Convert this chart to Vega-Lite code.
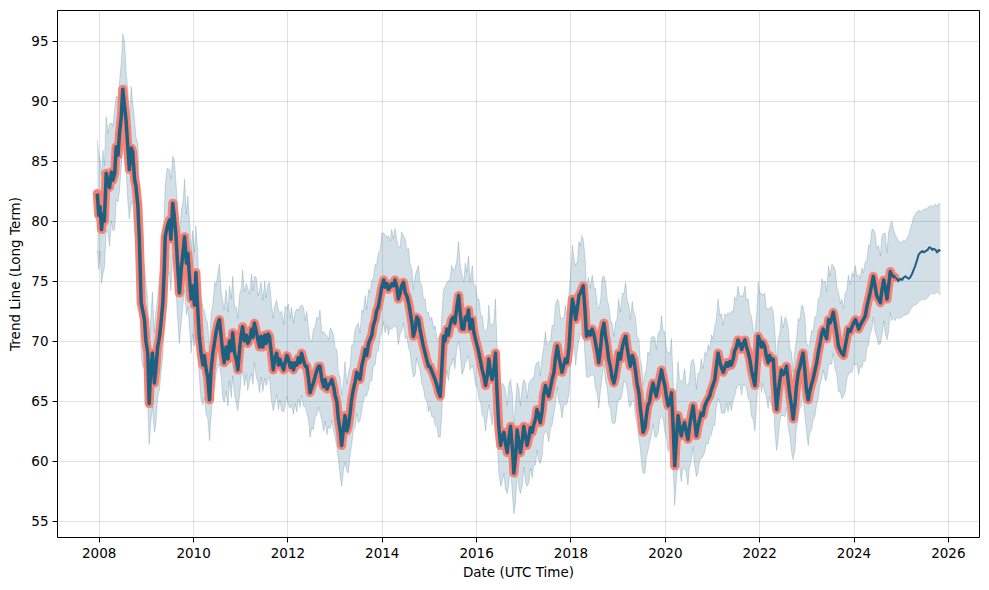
{
"$schema": "https://vega.github.io/schema/vega-lite/v6.json",
"width": 922, "height": 527,
"autosize": {"type": "none"},
"padding": {"left": 57, "top": 10, "right": 10, "bottom": 53},
"background": "white",
"config": {
  "view": {"stroke": "black", "strokeWidth": 1},
  "font": "DejaVu Sans",
  "axis": {"domain": false, "tickColor": "black", "tickSize": 5, "tickWidth": 1, "labelFontSize": 13.5, "labelColor": "black", "labelPadding": 4, "titleFontSize": 13.5, "titleFontWeight": "normal", "titleColor": "black", "grid": true, "gridColor": "#b0b0b0", "gridOpacity": 0.38, "labelFont": "DejaVu Sans", "titleFont": "DejaVu Sans"}
},
"data": {"values": [
{"t":2007.97,"y":82.3,"lo":77.6,"hi":86.8},{"t":2008.00,"y":80.5,"lo":76.0,"hi":85.6},{"t":2008.03,"y":81.2,"lo":77.5,"hi":85.2},{"t":2008.06,"y":79.3,"lo":74.8,"hi":83.8},{"t":2008.09,"y":80.6,"lo":75.6,"hi":85.9},{"t":2008.12,"y":80.0,"lo":76.1,"hi":84.6},{"t":2008.16,"y":84.0,"lo":79.2,"hi":88.7},{"t":2008.20,"y":83.2,"lo":79.0,"hi":87.3},{"t":2008.23,"y":82.8,"lo":77.9,"hi":88.1},{"t":2008.27,"y":84.1,"lo":80.0,"hi":88.2},{"t":2008.30,"y":83.4,"lo":79.2,"hi":87.9},{"t":2008.34,"y":84.0,"lo":79.3,"hi":89.4},{"t":2008.37,"y":86.2,"lo":81.8,"hi":90.4},{"t":2008.41,"y":85.5,"lo":81.6,"hi":90.3},{"t":2008.44,"y":87.3,"lo":82.5,"hi":91.6},{"t":2008.48,"y":88.8,"lo":84.7,"hi":93.2},{"t":2008.51,"y":91.0,"lo":86.6,"hi":95.6},{"t":2008.55,"y":89.5,"lo":85.0,"hi":94.9},{"t":2008.58,"y":88.4,"lo":84.3,"hi":92.5},{"t":2008.62,"y":86.0,"lo":81.5,"hi":90.8},{"t":2008.65,"y":84.3,"lo":80.2,"hi":88.6},{"t":2008.69,"y":86.1,"lo":81.4,"hi":91.2},{"t":2008.72,"y":85.8,"lo":81.7,"hi":89.9},{"t":2008.76,"y":83.5,"lo":78.9,"hi":88.4},{"t":2008.79,"y":82.9,"lo":78.7,"hi":87.0},{"t":2008.83,"y":81.3,"lo":76.6,"hi":86.5},{"t":2008.86,"y":78.7,"lo":74.5,"hi":83.1},{"t":2008.90,"y":73.2,"lo":69.0,"hi":78.4},{"t":2008.93,"y":72.6,"lo":67.9,"hi":76.8},{"t":2008.97,"y":71.8,"lo":67.7,"hi":76.4},{"t":2009.00,"y":70.0,"lo":65.4,"hi":74.9},{"t":2009.04,"y":69.0,"lo":64.8,"hi":73.3},{"t":2009.07,"y":64.8,"lo":61.4,"hi":69.6},{"t":2009.10,"y":67.5,"lo":63.1,"hi":71.8},{"t":2009.14,"y":69.0,"lo":64.6,"hi":74.1},{"t":2009.18,"y":66.5,"lo":62.4,"hi":70.7},{"t":2009.21,"y":67.6,"lo":63.0,"hi":72.4},{"t":2009.25,"y":69.5,"lo":65.3,"hi":73.6},{"t":2009.29,"y":70.4,"lo":66.0,"hi":75.5},{"t":2009.32,"y":71.5,"lo":67.4,"hi":75.9},{"t":2009.36,"y":73.2,"lo":68.7,"hi":77.9},{"t":2009.39,"y":76.0,"lo":71.8,"hi":80.6},{"t":2009.41,"y":78.7,"lo":74.2,"hi":83.0},{"t":2009.45,"y":79.5,"lo":75.4,"hi":84.4},{"t":2009.50,"y":80.1,"lo":75.7,"hi":84.3},{"t":2009.53,"y":78.5,"lo":74.2,"hi":83.5},{"t":2009.57,"y":81.5,"lo":77.3,"hi":85.4},{"t":2009.60,"y":80.5,"lo":76.0,"hi":85.2},{"t":2009.64,"y":78.7,"lo":74.4,"hi":83.0},{"t":2009.67,"y":76.5,"lo":72.1,"hi":81.5},{"t":2009.71,"y":74.0,"lo":69.8,"hi":78.2},{"t":2009.75,"y":76.0,"lo":71.6,"hi":80.9},{"t":2009.79,"y":77.5,"lo":73.2,"hi":81.6},{"t":2009.82,"y":78.7,"lo":74.3,"hi":83.5},{"t":2009.86,"y":76.5,"lo":72.2,"hi":80.6},{"t":2009.89,"y":77.3,"lo":72.9,"hi":82.1},{"t":2009.93,"y":75.0,"lo":70.8,"hi":79.7},{"t":2009.96,"y":73.5,"lo":69.0,"hi":77.6},{"t":2009.99,"y":74.6,"lo":70.6,"hi":79.2},
{"t":2010.03,"y":73.0,"lo":69.6,"hi":77.4},{"t":2010.06,"y":75.7,"lo":71.9,"hi":79.6},{"t":2010.10,"y":72.6,"lo":68.8,"hi":77.3},{"t":2010.13,"y":70.5,"lo":67.2,"hi":74.4},{"t":2010.17,"y":69.0,"lo":65.1,"hi":73.6},{"t":2010.21,"y":68.0,"lo":64.7,"hi":72.8},{"t":2010.24,"y":68.8,"lo":65.3,"hi":72.5},{"t":2010.28,"y":67.6,"lo":63.8,"hi":71.8},{"t":2010.31,"y":67.0,"lo":63.6,"hi":71.5},{"t":2010.35,"y":65.1,"lo":61.7,"hi":69.0},{"t":2010.38,"y":67.5,"lo":63.6,"hi":72.2},{"t":2010.42,"y":69.0,"lo":65.7,"hi":73.1},{"t":2010.46,"y":70.0,"lo":66.2,"hi":74.9},{"t":2010.49,"y":70.8,"lo":67.4,"hi":74.6},{"t":2010.53,"y":71.5,"lo":67.9,"hi":75.8},{"t":2010.56,"y":71.8,"lo":68.1,"hi":76.4},{"t":2010.60,"y":70.2,"lo":66.9,"hi":73.9},{"t":2010.63,"y":69.0,"lo":65.2,"hi":73.3},{"t":2010.66,"y":68.2,"lo":64.9,"hi":72.6},{"t":2010.70,"y":69.5,"lo":65.8,"hi":74.3},{"t":2010.74,"y":68.5,"lo":64.6,"hi":72.4},{"t":2010.77,"y":70.0,"lo":66.7,"hi":74.6},{"t":2010.81,"y":69.2,"lo":65.3,"hi":73.5},{"t":2010.84,"y":70.7,"lo":67.1,"hi":75.4},{"t":2010.88,"y":69.0,"lo":65.6,"hi":72.9},{"t":2010.92,"y":68.4,"lo":64.7,"hi":72.8},{"t":2010.95,"y":67.6,"lo":64.2,"hi":71.9},{"t":2010.99,"y":69.5,"lo":65.6,"hi":74.0},
{"t":2011.02,"y":70.5,"lo":67.1,"hi":74.3},{"t":2011.05,"y":71.2,"lo":67.5,"hi":75.9},{"t":2011.09,"y":70.0,"lo":66.3,"hi":74.1},{"t":2011.13,"y":70.5,"lo":67.2,"hi":74.8},{"t":2011.16,"y":69.8,"lo":65.9,"hi":74.4},{"t":2011.20,"y":70.1,"lo":66.7,"hi":73.9},{"t":2011.24,"y":71.0,"lo":67.3,"hi":75.6},{"t":2011.27,"y":70.3,"lo":66.4,"hi":74.2},{"t":2011.30,"y":71.5,"lo":68.2,"hi":75.4},{"t":2011.34,"y":70.8,"lo":67.0,"hi":75.3},{"t":2011.38,"y":70.0,"lo":66.5,"hi":73.8},{"t":2011.41,"y":69.5,"lo":65.7,"hi":74.2},{"t":2011.44,"y":70.4,"lo":67.0,"hi":74.9},{"t":2011.48,"y":69.5,"lo":65.8,"hi":73.4},{"t":2011.52,"y":70.5,"lo":66.9,"hi":75.0},{"t":2011.55,"y":69.8,"lo":66.3,"hi":73.6},{"t":2011.59,"y":70.6,"lo":66.8,"hi":74.8},{"t":2011.62,"y":70.4,"lo":67.0,"hi":74.9},{"t":2011.66,"y":69.0,"lo":65.1,"hi":73.2},{"t":2011.70,"y":67.6,"lo":64.2,"hi":71.9},{"t":2011.73,"y":68.5,"lo":64.7,"hi":72.9},{"t":2011.77,"y":69.0,"lo":65.6,"hi":73.4},{"t":2011.81,"y":68.0,"lo":64.3,"hi":72.6},{"t":2011.84,"y":68.5,"lo":65.1,"hi":72.3},{"t":2011.88,"y":68.0,"lo":64.2,"hi":72.5},{"t":2011.92,"y":67.6,"lo":64.1,"hi":71.4},{"t":2011.95,"y":68.2,"lo":64.5,"hi":72.9},{"t":2011.99,"y":68.8,"lo":65.4,"hi":72.7},
{"t":2012.02,"y":68.5,"lo":64.6,"hi":73.1},{"t":2012.06,"y":67.8,"lo":64.4,"hi":71.9},{"t":2012.09,"y":68.2,"lo":64.7,"hi":72.8},{"t":2012.13,"y":67.6,"lo":63.9,"hi":71.5},{"t":2012.16,"y":68.2,"lo":64.8,"hi":72.4},{"t":2012.20,"y":68.0,"lo":64.1,"hi":72.7},{"t":2012.23,"y":68.6,"lo":65.2,"hi":72.5},{"t":2012.27,"y":68.2,"lo":64.5,"hi":72.9},{"t":2012.30,"y":69.0,"lo":65.5,"hi":73.0},{"t":2012.34,"y":68.4,"lo":64.6,"hi":72.8},{"t":2012.38,"y":67.9,"lo":64.5,"hi":71.7},{"t":2012.41,"y":67.9,"lo":64.1,"hi":72.5},{"t":2012.45,"y":66.8,"lo":63.4,"hi":70.9},{"t":2012.48,"y":65.7,"lo":62.0,"hi":70.1},{"t":2012.52,"y":66.2,"lo":62.8,"hi":70.0},{"t":2012.55,"y":66.5,"lo":62.6,"hi":71.0},{"t":2012.59,"y":67.1,"lo":63.7,"hi":71.2},{"t":2012.62,"y":67.5,"lo":63.8,"hi":72.0},{"t":2012.66,"y":67.9,"lo":64.5,"hi":71.8},{"t":2012.69,"y":67.9,"lo":64.0,"hi":72.6},{"t":2012.73,"y":66.8,"lo":63.4,"hi":70.7},{"t":2012.77,"y":66.2,"lo":62.5,"hi":70.8},{"t":2012.80,"y":66.8,"lo":63.3,"hi":70.6},{"t":2012.84,"y":66.0,"lo":62.2,"hi":70.4},{"t":2012.87,"y":66.3,"lo":62.9,"hi":70.1},{"t":2012.91,"y":66.5,"lo":62.7,"hi":71.1},{"t":2012.94,"y":66.8,"lo":63.4,"hi":70.9},{"t":2012.98,"y":66.2,"lo":62.5,"hi":70.5},
{"t":2013.01,"y":65.5,"lo":62.0,"hi":69.4},{"t":2013.05,"y":64.9,"lo":61.1,"hi":69.3},{"t":2013.08,"y":63.5,"lo":60.2,"hi":67.4},{"t":2013.12,"y":62.5,"lo":58.7,"hi":66.9},{"t":2013.15,"y":61.3,"lo":57.9,"hi":65.5},{"t":2013.19,"y":62.8,"lo":59.3,"hi":66.6},{"t":2013.22,"y":63.8,"lo":59.9,"hi":68.3},{"t":2013.26,"y":62.5,"lo":59.2,"hi":66.4},{"t":2013.29,"y":62.9,"lo":59.0,"hi":67.3},{"t":2013.33,"y":64.0,"lo":60.6,"hi":67.9},{"t":2013.36,"y":65.1,"lo":61.3,"hi":69.6},{"t":2013.40,"y":66.0,"lo":62.6,"hi":69.8},{"t":2013.43,"y":66.5,"lo":62.7,"hi":70.9},{"t":2013.47,"y":67.4,"lo":64.0,"hi":71.3},{"t":2013.50,"y":67.0,"lo":63.2,"hi":71.5},{"t":2013.54,"y":66.8,"lo":63.4,"hi":70.7},{"t":2013.58,"y":68.0,"lo":64.3,"hi":72.6},{"t":2013.61,"y":68.5,"lo":65.0,"hi":72.4},{"t":2013.65,"y":69.3,"lo":65.5,"hi":73.8},{"t":2013.68,"y":68.8,"lo":65.4,"hi":72.6},{"t":2013.72,"y":69.8,"lo":66.0,"hi":74.3},{"t":2013.75,"y":70.1,"lo":66.7,"hi":74.0},{"t":2013.79,"y":70.5,"lo":66.7,"hi":75.1},{"t":2013.82,"y":71.3,"lo":67.9,"hi":75.2},{"t":2013.86,"y":71.8,"lo":68.0,"hi":76.4},{"t":2013.89,"y":72.5,"lo":69.1,"hi":76.3},{"t":2013.93,"y":72.9,"lo":69.2,"hi":77.4},{"t":2013.97,"y":73.8,"lo":70.4,"hi":77.6},
{"t":2014.00,"y":74.5,"lo":70.7,"hi":79.0},{"t":2014.04,"y":75.1,"lo":71.6,"hi":79.0},{"t":2014.07,"y":74.5,"lo":70.7,"hi":78.9},{"t":2014.11,"y":74.8,"lo":71.3,"hi":78.6},{"t":2014.14,"y":74.3,"lo":70.5,"hi":78.8},{"t":2014.18,"y":74.5,"lo":71.1,"hi":78.3},{"t":2014.21,"y":74.8,"lo":71.0,"hi":79.3},{"t":2014.25,"y":74.6,"lo":71.2,"hi":78.5},{"t":2014.28,"y":75.1,"lo":71.3,"hi":79.4},{"t":2014.32,"y":74.5,"lo":71.0,"hi":78.4},{"t":2014.35,"y":73.5,"lo":69.7,"hi":77.9},{"t":2014.39,"y":74.0,"lo":70.6,"hi":77.8},{"t":2014.42,"y":74.6,"lo":70.8,"hi":79.1},{"t":2014.46,"y":74.9,"lo":71.5,"hi":78.8},{"t":2014.50,"y":74.0,"lo":70.2,"hi":78.5},{"t":2014.53,"y":73.8,"lo":70.4,"hi":77.6},{"t":2014.57,"y":73.2,"lo":69.4,"hi":77.7},{"t":2014.60,"y":72.5,"lo":69.1,"hi":76.4},{"t":2014.64,"y":71.5,"lo":67.7,"hi":76.0},{"t":2014.67,"y":70.4,"lo":67.0,"hi":74.3},{"t":2014.71,"y":71.0,"lo":67.2,"hi":75.5},{"t":2014.74,"y":72.0,"lo":68.6,"hi":75.9},{"t":2014.78,"y":71.8,"lo":68.0,"hi":76.3},{"t":2014.81,"y":71.0,"lo":67.6,"hi":74.9},{"t":2014.85,"y":70.2,"lo":66.4,"hi":74.7},{"t":2014.88,"y":69.6,"lo":66.2,"hi":73.5},{"t":2014.92,"y":69.0,"lo":65.2,"hi":73.5},{"t":2014.95,"y":68.5,"lo":65.1,"hi":72.4},{"t":2014.99,"y":67.9,"lo":64.1,"hi":72.4},
{"t":2015.02,"y":67.9,"lo":64.5,"hi":71.8},{"t":2015.06,"y":67.5,"lo":63.7,"hi":72.0},{"t":2015.10,"y":67.1,"lo":63.7,"hi":71.0},{"t":2015.13,"y":66.8,"lo":63.0,"hi":71.3},{"t":2015.17,"y":66.3,"lo":62.9,"hi":70.2},{"t":2015.20,"y":65.8,"lo":62.0,"hi":70.3},{"t":2015.24,"y":65.4,"lo":62.0,"hi":69.3},{"t":2015.27,"y":67.5,"lo":63.7,"hi":72.0},{"t":2015.31,"y":70.4,"lo":67.0,"hi":74.3},{"t":2015.34,"y":70.0,"lo":66.2,"hi":74.5},{"t":2015.38,"y":71.0,"lo":67.6,"hi":74.9},{"t":2015.41,"y":70.5,"lo":66.7,"hi":75.0},{"t":2015.45,"y":71.3,"lo":67.9,"hi":75.2},{"t":2015.48,"y":71.8,"lo":68.0,"hi":76.3},{"t":2015.52,"y":72.0,"lo":68.6,"hi":75.9},{"t":2015.55,"y":71.5,"lo":67.7,"hi":76.0},{"t":2015.59,"y":72.8,"lo":69.4,"hi":76.7},{"t":2015.63,"y":73.8,"lo":70.0,"hi":78.3},{"t":2015.66,"y":72.5,"lo":69.1,"hi":76.4},{"t":2015.70,"y":71.0,"lo":67.2,"hi":75.5},{"t":2015.74,"y":71.0,"lo":67.6,"hi":74.9},{"t":2015.77,"y":72.0,"lo":68.2,"hi":76.5},{"t":2015.80,"y":71.8,"lo":68.4,"hi":75.7},{"t":2015.84,"y":72.6,"lo":68.8,"hi":77.1},{"t":2015.87,"y":71.0,"lo":67.6,"hi":74.9},{"t":2015.92,"y":71.8,"lo":68.0,"hi":76.3},{"t":2015.95,"y":70.8,"lo":67.4,"hi":74.7},{"t":2015.99,"y":70.1,"lo":66.3,"hi":74.6},
{"t":2016.03,"y":69.5,"lo":66.1,"hi":73.4},{"t":2016.06,"y":69.0,"lo":65.2,"hi":73.5},{"t":2016.10,"y":68.2,"lo":64.8,"hi":72.1},{"t":2016.13,"y":67.6,"lo":63.8,"hi":72.1},{"t":2016.17,"y":67.0,"lo":63.6,"hi":70.9},{"t":2016.20,"y":66.3,"lo":62.5,"hi":70.8},{"t":2016.24,"y":67.2,"lo":63.8,"hi":71.1},{"t":2016.27,"y":68.5,"lo":64.7,"hi":73.0},{"t":2016.30,"y":67.5,"lo":64.1,"hi":71.4},{"t":2016.34,"y":66.8,"lo":63.0,"hi":71.3},{"t":2016.38,"y":67.8,"lo":64.4,"hi":71.7},{"t":2016.41,"y":69.0,"lo":65.2,"hi":73.5},{"t":2016.44,"y":66.0,"lo":62.6,"hi":69.9},{"t":2016.48,"y":62.9,"lo":59.1,"hi":67.4},{"t":2016.52,"y":61.3,"lo":57.9,"hi":65.2},{"t":2016.55,"y":62.0,"lo":58.2,"hi":66.5},{"t":2016.59,"y":62.4,"lo":59.0,"hi":66.3},{"t":2016.62,"y":61.5,"lo":57.7,"hi":66.0},{"t":2016.66,"y":60.7,"lo":57.3,"hi":64.6},{"t":2016.69,"y":61.8,"lo":58.0,"hi":66.3},{"t":2016.73,"y":62.9,"lo":59.5,"hi":66.8},{"t":2016.77,"y":61.0,"lo":57.2,"hi":65.5},{"t":2016.80,"y":59.0,"lo":55.6,"hi":62.9},{"t":2016.84,"y":60.5,"lo":56.7,"hi":65.0},{"t":2016.87,"y":62.6,"lo":59.2,"hi":66.5},{"t":2016.91,"y":61.5,"lo":57.7,"hi":66.0},{"t":2016.94,"y":60.7,"lo":57.3,"hi":64.6},{"t":2016.98,"y":61.8,"lo":58.0,"hi":66.3},
{"t":2017.01,"y":62.9,"lo":59.5,"hi":66.8},{"t":2017.05,"y":62.0,"lo":58.2,"hi":66.5},{"t":2017.08,"y":61.3,"lo":57.9,"hi":65.2},{"t":2017.12,"y":62.0,"lo":58.2,"hi":66.5},{"t":2017.15,"y":62.8,"lo":59.4,"hi":66.7},{"t":2017.19,"y":62.4,"lo":58.6,"hi":66.9},{"t":2017.22,"y":63.0,"lo":59.6,"hi":66.9},{"t":2017.26,"y":63.5,"lo":59.7,"hi":68.0},{"t":2017.29,"y":64.3,"lo":60.9,"hi":68.2},{"t":2017.33,"y":63.8,"lo":60.0,"hi":68.3},{"t":2017.36,"y":63.2,"lo":59.8,"hi":67.1},{"t":2017.40,"y":64.2,"lo":60.4,"hi":68.7},{"t":2017.43,"y":65.5,"lo":62.1,"hi":69.4},{"t":2017.47,"y":66.3,"lo":62.5,"hi":70.8},{"t":2017.50,"y":65.8,"lo":62.4,"hi":69.7},{"t":2017.54,"y":65.4,"lo":61.6,"hi":69.9},{"t":2017.58,"y":66.2,"lo":62.8,"hi":70.1},{"t":2017.61,"y":66.8,"lo":63.0,"hi":71.3},{"t":2017.65,"y":67.4,"lo":64.0,"hi":71.3},{"t":2017.68,"y":68.5,"lo":64.7,"hi":73.0},{"t":2017.72,"y":69.6,"lo":66.2,"hi":73.5},{"t":2017.75,"y":68.8,"lo":65.0,"hi":73.3},{"t":2017.79,"y":68.0,"lo":64.6,"hi":71.9},{"t":2017.82,"y":67.4,"lo":63.6,"hi":71.9},{"t":2017.86,"y":68.0,"lo":64.6,"hi":71.9},{"t":2017.89,"y":68.5,"lo":64.7,"hi":73.0},{"t":2017.93,"y":68.2,"lo":64.8,"hi":72.1},{"t":2017.97,"y":69.5,"lo":65.7,"hi":74.0},
{"t":2018.00,"y":71.5,"lo":68.1,"hi":75.4},{"t":2018.04,"y":73.5,"lo":69.7,"hi":78.0},{"t":2018.08,"y":72.8,"lo":69.4,"hi":76.7},{"t":2018.11,"y":71.8,"lo":68.0,"hi":76.3},{"t":2018.15,"y":72.8,"lo":69.4,"hi":76.7},{"t":2018.18,"y":73.8,"lo":70.0,"hi":78.3},{"t":2018.21,"y":74.0,"lo":70.6,"hi":77.9},{"t":2018.24,"y":74.3,"lo":70.5,"hi":78.8},{"t":2018.27,"y":74.6,"lo":71.2,"hi":78.5},{"t":2018.31,"y":72.5,"lo":68.7,"hi":77.0},{"t":2018.34,"y":70.4,"lo":67.0,"hi":74.3},{"t":2018.38,"y":70.8,"lo":67.0,"hi":75.3},{"t":2018.42,"y":70.5,"lo":67.1,"hi":74.4},{"t":2018.46,"y":71.0,"lo":67.2,"hi":75.5},{"t":2018.50,"y":70.5,"lo":67.1,"hi":74.4},{"t":2018.53,"y":69.9,"lo":66.1,"hi":74.4},{"t":2018.57,"y":69.0,"lo":65.6,"hi":72.9},{"t":2018.60,"y":68.2,"lo":64.4,"hi":72.7},{"t":2018.64,"y":69.5,"lo":66.1,"hi":73.4},{"t":2018.67,"y":70.8,"lo":67.0,"hi":75.3},{"t":2018.71,"y":71.5,"lo":68.1,"hi":75.4},{"t":2018.74,"y":70.5,"lo":66.7,"hi":75.0},{"t":2018.78,"y":69.5,"lo":66.1,"hi":73.4},{"t":2018.81,"y":68.5,"lo":64.7,"hi":73.0},{"t":2018.85,"y":67.8,"lo":64.4,"hi":71.7},{"t":2018.88,"y":67.0,"lo":63.2,"hi":71.5},{"t":2018.92,"y":66.5,"lo":63.1,"hi":70.4},{"t":2018.95,"y":67.0,"lo":63.2,"hi":71.5},{"t":2018.99,"y":68.0,"lo":64.6,"hi":71.9},
{"t":2019.02,"y":69.0,"lo":65.2,"hi":73.5},{"t":2019.06,"y":68.5,"lo":65.1,"hi":72.4},{"t":2019.10,"y":69.5,"lo":65.7,"hi":74.0},{"t":2019.13,"y":70.0,"lo":66.6,"hi":73.9},{"t":2019.17,"y":70.4,"lo":66.6,"hi":74.9},{"t":2019.20,"y":69.5,"lo":66.1,"hi":73.4},{"t":2019.24,"y":68.5,"lo":64.7,"hi":73.0},{"t":2019.27,"y":67.9,"lo":64.5,"hi":71.8},{"t":2019.31,"y":68.8,"lo":65.0,"hi":73.3},{"t":2019.34,"y":68.5,"lo":65.1,"hi":72.4},{"t":2019.38,"y":67.5,"lo":63.7,"hi":72.0},{"t":2019.41,"y":66.5,"lo":63.1,"hi":70.4},{"t":2019.45,"y":65.7,"lo":61.9,"hi":70.2},{"t":2019.48,"y":64.5,"lo":61.1,"hi":68.4},{"t":2019.51,"y":63.5,"lo":59.7,"hi":68.0},{"t":2019.54,"y":62.4,"lo":59.0,"hi":66.3},{"t":2019.58,"y":62.8,"lo":59.0,"hi":67.3},{"t":2019.61,"y":63.8,"lo":60.4,"hi":67.7},{"t":2019.64,"y":64.6,"lo":60.8,"hi":69.1},{"t":2019.68,"y":65.0,"lo":61.6,"hi":68.9},{"t":2019.71,"y":65.8,"lo":62.0,"hi":70.3},{"t":2019.75,"y":66.5,"lo":63.1,"hi":70.4},{"t":2019.79,"y":65.8,"lo":62.0,"hi":70.3},{"t":2019.82,"y":65.4,"lo":62.0,"hi":69.3},{"t":2019.86,"y":66.2,"lo":62.4,"hi":70.7},{"t":2019.90,"y":67.0,"lo":63.6,"hi":70.9},{"t":2019.93,"y":67.6,"lo":63.8,"hi":72.1},{"t":2019.97,"y":66.8,"lo":63.4,"hi":70.7},
{"t":2020.00,"y":66.3,"lo":62.5,"hi":70.8},{"t":2020.04,"y":65.2,"lo":61.8,"hi":69.1},{"t":2020.07,"y":64.6,"lo":60.8,"hi":69.1},{"t":2020.11,"y":65.0,"lo":61.6,"hi":68.9},{"t":2020.14,"y":65.7,"lo":61.9,"hi":70.2},{"t":2020.17,"y":63.5,"lo":60.1,"hi":67.4},{"t":2020.21,"y":59.6,"lo":56.3,"hi":63.5},{"t":2020.24,"y":61.5,"lo":58.1,"hi":65.4},{"t":2020.28,"y":63.8,"lo":60.0,"hi":68.3},{"t":2020.31,"y":63.0,"lo":59.6,"hi":66.9},{"t":2020.35,"y":62.1,"lo":58.3,"hi":66.6},{"t":2020.38,"y":62.8,"lo":59.4,"hi":66.7},{"t":2020.42,"y":63.2,"lo":59.4,"hi":67.7},{"t":2020.45,"y":62.5,"lo":59.1,"hi":66.4},{"t":2020.49,"y":61.8,"lo":58.0,"hi":66.3},{"t":2020.52,"y":62.8,"lo":59.4,"hi":66.7},{"t":2020.56,"y":63.8,"lo":60.0,"hi":68.3},{"t":2020.60,"y":64.6,"lo":61.2,"hi":68.5},{"t":2020.63,"y":63.5,"lo":59.7,"hi":68.0},{"t":2020.67,"y":62.1,"lo":58.7,"hi":66.0},{"t":2020.70,"y":62.8,"lo":59.0,"hi":67.3},{"t":2020.74,"y":63.5,"lo":60.1,"hi":67.4},{"t":2020.77,"y":64.0,"lo":60.2,"hi":68.5},{"t":2020.81,"y":63.8,"lo":60.4,"hi":67.7},{"t":2020.85,"y":64.6,"lo":60.8,"hi":69.1},{"t":2020.88,"y":64.9,"lo":61.5,"hi":68.8},{"t":2020.92,"y":65.2,"lo":61.4,"hi":69.7},{"t":2020.95,"y":65.4,"lo":62.0,"hi":69.3},{"t":2020.99,"y":66.0,"lo":62.2,"hi":70.5},
{"t":2021.02,"y":66.3,"lo":62.9,"hi":70.2},{"t":2021.06,"y":66.8,"lo":63.0,"hi":71.3},{"t":2021.09,"y":67.8,"lo":64.4,"hi":71.7},{"t":2021.13,"y":69.0,"lo":65.2,"hi":73.5},{"t":2021.17,"y":68.2,"lo":64.8,"hi":72.1},{"t":2021.20,"y":67.8,"lo":64.0,"hi":72.3},{"t":2021.24,"y":67.4,"lo":64.0,"hi":71.3},{"t":2021.27,"y":67.8,"lo":64.0,"hi":72.3},{"t":2021.31,"y":68.2,"lo":64.8,"hi":72.1},{"t":2021.34,"y":67.9,"lo":64.1,"hi":72.4},{"t":2021.38,"y":68.3,"lo":64.9,"hi":72.2},{"t":2021.41,"y":68.0,"lo":64.2,"hi":72.5},{"t":2021.45,"y":68.5,"lo":65.1,"hi":72.4},{"t":2021.48,"y":69.2,"lo":65.4,"hi":73.7},{"t":2021.52,"y":69.5,"lo":66.1,"hi":73.4},{"t":2021.55,"y":70.1,"lo":66.3,"hi":74.6},{"t":2021.59,"y":69.8,"lo":66.4,"hi":73.7},{"t":2021.63,"y":69.3,"lo":65.5,"hi":73.8},{"t":2021.66,"y":69.8,"lo":66.4,"hi":73.7},{"t":2021.70,"y":70.1,"lo":66.3,"hi":74.6},{"t":2021.73,"y":69.5,"lo":66.1,"hi":73.4},{"t":2021.77,"y":69.0,"lo":65.2,"hi":73.5},{"t":2021.80,"y":68.5,"lo":65.1,"hi":72.4},{"t":2021.84,"y":67.5,"lo":63.7,"hi":72.0},{"t":2021.88,"y":66.8,"lo":63.4,"hi":70.7},{"t":2021.91,"y":66.3,"lo":62.5,"hi":70.8},{"t":2021.95,"y":68.5,"lo":65.1,"hi":72.4},{"t":2021.98,"y":70.4,"lo":66.6,"hi":74.9},
{"t":2022.02,"y":70.0,"lo":66.6,"hi":73.9},{"t":2022.05,"y":69.5,"lo":65.7,"hi":74.0},{"t":2022.08,"y":69.9,"lo":66.5,"hi":73.8},{"t":2022.12,"y":69.5,"lo":65.7,"hi":74.0},{"t":2022.15,"y":68.8,"lo":65.4,"hi":72.7},{"t":2022.19,"y":68.2,"lo":64.4,"hi":72.7},{"t":2022.22,"y":68.8,"lo":65.4,"hi":72.7},{"t":2022.26,"y":68.4,"lo":64.6,"hi":72.9},{"t":2022.30,"y":68.5,"lo":65.1,"hi":72.4},{"t":2022.33,"y":66.5,"lo":62.7,"hi":71.0},{"t":2022.37,"y":64.3,"lo":60.9,"hi":68.2},{"t":2022.40,"y":65.5,"lo":61.7,"hi":70.0},{"t":2022.44,"y":66.8,"lo":63.4,"hi":70.7},{"t":2022.47,"y":67.6,"lo":63.8,"hi":72.1},{"t":2022.51,"y":67.2,"lo":63.8,"hi":71.1},{"t":2022.55,"y":67.5,"lo":63.7,"hi":72.0},{"t":2022.58,"y":67.9,"lo":64.5,"hi":71.8},{"t":2022.62,"y":66.5,"lo":62.7,"hi":71.0},{"t":2022.65,"y":65.5,"lo":62.1,"hi":69.4},{"t":2022.69,"y":64.5,"lo":60.7,"hi":69.0},{"t":2022.72,"y":63.5,"lo":60.1,"hi":67.4},{"t":2022.76,"y":64.8,"lo":61.0,"hi":69.3},{"t":2022.79,"y":66.2,"lo":62.8,"hi":70.1},{"t":2022.83,"y":67.4,"lo":63.6,"hi":71.9},{"t":2022.86,"y":67.8,"lo":64.4,"hi":71.7},{"t":2022.90,"y":68.5,"lo":64.7,"hi":73.0},{"t":2022.93,"y":69.0,"lo":65.6,"hi":72.9},{"t":2022.97,"y":67.5,"lo":63.7,"hi":72.0},
{"t":2023.00,"y":66.0,"lo":62.6,"hi":69.9},{"t":2023.04,"y":65.1,"lo":61.3,"hi":69.6},{"t":2023.07,"y":65.8,"lo":62.4,"hi":69.7},{"t":2023.11,"y":66.4,"lo":62.6,"hi":70.9},{"t":2023.14,"y":66.8,"lo":63.4,"hi":70.7},{"t":2023.18,"y":67.5,"lo":63.7,"hi":72.0},{"t":2023.22,"y":68.2,"lo":64.8,"hi":72.1},{"t":2023.25,"y":69.0,"lo":65.2,"hi":73.5},{"t":2023.29,"y":69.8,"lo":66.4,"hi":73.7},{"t":2023.33,"y":70.7,"lo":66.9,"hi":75.2},{"t":2023.36,"y":71.0,"lo":67.6,"hi":74.9},{"t":2023.40,"y":70.5,"lo":66.7,"hi":75.0},{"t":2023.43,"y":70.2,"lo":66.8,"hi":74.1},{"t":2023.47,"y":71.8,"lo":68.0,"hi":76.3},{"t":2023.50,"y":71.5,"lo":68.1,"hi":75.4},{"t":2023.54,"y":71.9,"lo":68.1,"hi":76.4},{"t":2023.57,"y":72.4,"lo":69.0,"hi":76.3},{"t":2023.61,"y":71.5,"lo":67.7,"hi":76.0},{"t":2023.65,"y":70.5,"lo":67.1,"hi":74.4},{"t":2023.68,"y":69.6,"lo":65.8,"hi":74.1},{"t":2023.72,"y":69.2,"lo":65.8,"hi":73.1},{"t":2023.75,"y":69.0,"lo":65.2,"hi":73.5},{"t":2023.79,"y":68.8,"lo":65.4,"hi":72.7},{"t":2023.82,"y":69.5,"lo":65.7,"hi":74.0},{"t":2023.86,"y":70.3,"lo":66.9,"hi":74.2},{"t":2023.89,"y":71.0,"lo":67.2,"hi":75.5},{"t":2023.93,"y":70.8,"lo":67.4,"hi":74.7},{"t":2023.97,"y":71.2,"lo":67.4,"hi":75.7},
{"t":2024.00,"y":71.5,"lo":68.1,"hi":75.4},{"t":2024.04,"y":71.8,"lo":68.0,"hi":76.3},{"t":2024.07,"y":71.5,"lo":68.1,"hi":75.4},{"t":2024.11,"y":71.0,"lo":67.2,"hi":75.5},{"t":2024.14,"y":71.3,"lo":67.9,"hi":75.2},{"t":2024.18,"y":71.6,"lo":67.8,"hi":76.1},{"t":2024.21,"y":71.8,"lo":68.4,"hi":75.7},{"t":2024.25,"y":72.1,"lo":68.3,"hi":76.6},{"t":2024.28,"y":72.8,"lo":69.4,"hi":76.7},{"t":2024.32,"y":73.5,"lo":69.7,"hi":78.0},{"t":2024.35,"y":74.0,"lo":70.6,"hi":77.9},{"t":2024.39,"y":74.8,"lo":71.0,"hi":79.3},{"t":2024.42,"y":75.4,"lo":72.0,"hi":79.3},{"t":2024.46,"y":74.5,"lo":70.7,"hi":79.0},{"t":2024.49,"y":73.8,"lo":70.4,"hi":77.7},{"t":2024.53,"y":73.5,"lo":69.7,"hi":78.0},{"t":2024.57,"y":73.2,"lo":69.8,"hi":77.1},{"t":2024.60,"y":74.2,"lo":70.4,"hi":78.7},{"t":2024.64,"y":75.1,"lo":71.7,"hi":79.0},{"t":2024.67,"y":74.5,"lo":70.7,"hi":79.0},{"t":2024.71,"y":73.5,"lo":70.1,"hi":77.4},{"t":2024.74,"y":74.5,"lo":70.7,"hi":79.0},{"t":2024.78,"y":75.8,"lo":72.4,"hi":79.7},{"t":2024.81,"y":75.5,"lo":71.7,"hi":80.0},{"t":2024.85,"y":75.4,"lo":72.0,"hi":79.3},{"t":2024.88,"y":75.3,"lo":71.7,"hi":78.9},
{"t":2024.92,"y":75.2,"lo":72.0,"hi":78.6},{"t":2024.95,"y":75.0,"lo":71.9,"hi":78.4},{"t":2024.99,"y":75.2,"lo":71.9,"hi":78.2},{"t":2025.03,"y":75.1,"lo":72.0,"hi":78.3},{"t":2025.06,"y":75.3,"lo":72.1,"hi":78.4},{"t":2025.10,"y":75.4,"lo":72.2,"hi":78.3},{"t":2025.13,"y":75.3,"lo":72.2,"hi":78.6},{"t":2025.17,"y":75.2,"lo":72.3,"hi":78.8},{"t":2025.20,"y":75.3,"lo":72.6,"hi":79.3},{"t":2025.24,"y":75.6,"lo":72.8,"hi":79.8},{"t":2025.27,"y":75.9,"lo":73.0,"hi":80.3},{"t":2025.31,"y":76.3,"lo":73.0,"hi":80.6},{"t":2025.35,"y":76.8,"lo":73.1,"hi":80.8},{"t":2025.38,"y":77.2,"lo":73.3,"hi":80.9},{"t":2025.42,"y":77.4,"lo":73.4,"hi":80.8},{"t":2025.46,"y":77.5,"lo":73.5,"hi":80.9},{"t":2025.49,"y":77.4,"lo":73.4,"hi":81.0},{"t":2025.53,"y":77.5,"lo":73.5,"hi":81.0},{"t":2025.57,"y":77.6,"lo":73.6,"hi":81.1},{"t":2025.60,"y":77.8,"lo":73.8,"hi":81.2},{"t":2025.63,"y":77.8,"lo":73.9,"hi":81.3},{"t":2025.67,"y":77.6,"lo":74.0,"hi":81.2},{"t":2025.70,"y":77.7,"lo":73.9,"hi":81.3},{"t":2025.74,"y":77.6,"lo":74.0,"hi":81.4},{"t":2025.77,"y":77.4,"lo":74.1,"hi":81.2},{"t":2025.81,"y":77.6,"lo":74.0,"hi":81.5},{"t":2025.84,"y":77.5,"lo":73.8,"hi":81.3}
]},
"encoding": {
  "x": {"field": "t", "type": "quantitative", "scale": {"domain": [2007.116, 2026.66], "nice": false, "zero": false},
        "axis": {"title": "Date (UTC Time)", "values": [2008,2010,2012,2014,2016,2018,2020,2022,2024,2026], "format": "d", "titlePadding": 6}}
},
"layer": [
  {"mark": {"type": "area", "color": "#1f5f80", "opacity": 0.2},
   "encoding": {"y": {"field": "lo", "type": "quantitative", "scale": {"domain": [53.67, 97.6], "nice": false, "zero": false},
                 "axis": {"title": "Trend Line (Long Term)", "values": [55,60,65,70,75,80,85,90,95], "titlePadding": 8}},
                "y2": {"field": "hi"}}},
  {"mark": {"type": "line", "color": "#1f5f80", "opacity": 0.2, "strokeWidth": 1},
   "encoding": {"y": {"field": "lo", "type": "quantitative"}}},
  {"mark": {"type": "line", "color": "#1f5f80", "opacity": 0.2, "strokeWidth": 1},
   "encoding": {"y": {"field": "hi", "type": "quantitative"}}},
  {"transform": [{"filter": "datum.t <= 2024.9"}],
   "mark": {"type": "line", "color": "#fa8072", "strokeWidth": 9, "strokeJoin": "round", "strokeCap": "round"},
   "encoding": {"y": {"field": "y", "type": "quantitative"}}},
  {"transform": [{"filter": "datum.t <= 2024.9"}],
   "mark": {"type": "line", "color": "#1f5f80", "strokeWidth": 3.5, "strokeJoin": "round"},
   "encoding": {"y": {"field": "y", "type": "quantitative"}}},
  {"transform": [{"filter": "datum.t >= 2024.87"}],
   "mark": {"type": "line", "color": "#1f5f80", "strokeWidth": 2, "strokeJoin": "round"},
   "encoding": {"y": {"field": "y", "type": "quantitative"}}}
]
}
